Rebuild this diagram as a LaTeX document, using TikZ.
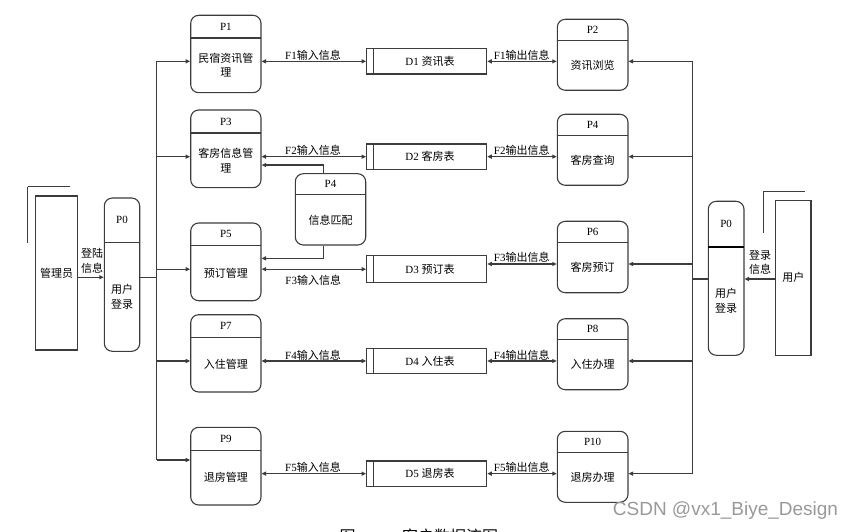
\documentclass[tikz,border=0pt]{standalone}
\usepackage{fontspec}
\setmainfont{Liberation Serif}
\newfontfamily\cjk{Noto Sans CJK SC}
\newfontfamily\wmfont{Liberation Sans}
\usetikzlibrary{arrows.meta}
\definecolor{ln}{HTML}{3C3C3C}
\tikzset{
  procbox/.style={draw=ln, line width=1.1pt, rounded corners=8pt, inner sep=0pt},
  store/.style={draw=ln, line width=1.1pt, inner sep=0pt},
  ent/.style={draw=ln, line width=1.1pt, inner sep=0pt},
  txt/.style={inner sep=0pt, font=\fontsize{11}{14.5}\selectfont, align=center},
  zh/.style={inner sep=0pt, font=\fontsize{11}{14.5}\selectfont\cjk, align=center},
  wire/.style={draw=ln, line width=1.1pt},
  arr/.style={wire, -{Triangle[length=4.5pt,width=4pt]}},
  dbl/.style={wire, {Triangle[length=4.5pt,width=4pt]}-{Triangle[length=4.5pt,width=4pt]}},
}
% name, x1, y1, x2, y2, header line y, header, body
\newcommand\procnode[8]{%
  \node[procbox, minimum width={#4-#2}, minimum height={#5-#3}] (#1) at ({(#2+#4)/2},{(#3+#5)/2}) {};
  \draw[wire] (#2,#6) -- (#4,#6);
  \node[txt] (#1h) at ({(#2+#4)/2},{(#3+#6)/2}) {#7};
  \node[zh] (#1b) at ({(#2+#4)/2},{(#6+#5)/2}) {#8};
}
% name, y1, y2, label
\newcommand\storenode[4]{%
  \node[store, minimum width=120pt, minimum height={#3-#2}] (#1) at (426.7,{(#2+#3)/2}) {};
  \draw[wire] (373.3,#2) -- (373.3,#3);
  \node[txt] (#1t) at (430,{(#2+#3)/2}) {#4};
}
\begin{document}
\begin{tikzpicture}[x=1pt,y=-1pt]
\useasboundingbox (0,0) rectangle (844,532);
\clip (0,0) rectangle (844,532);

% processes
\procnode{p1}{190.7}{15.3}{261}{92.7}{38}{P1}{民宿资讯管\\理}
\procnode{p3}{190.7}{110}{261}{187.7}{133}{P3}{客房信息管\\理}
\procnode{p5}{190.7}{223}{261}{300.7}{245.7}{P5}{预订管理}
\procnode{p7}{190.7}{314.7}{261}{392}{337.3}{P7}{入住管理}
\procnode{p9}{190.7}{427.3}{261}{505}{450.3}{P9}{退房管理}
\procnode{p2}{557.3}{19.3}{628}{90.3}{40.3}{P2}{资讯浏览}
\procnode{p4}{557.3}{114.3}{628}{185.3}{135.3}{P4}{客房查询}
\procnode{p6}{557.3}{221.3}{628}{292.7}{242.7}{P6}{客房预订}
\procnode{p8}{557.3}{318.7}{628}{389.7}{339.7}{P8}{入住办理}
\procnode{p10}{557.3}{431.3}{628}{502.3}{452.3}{P10}{退房办理}
\procnode{pm}{295.3}{173.7}{365.7}{245}{194.7}{P4}{信息匹配}
\procnode{pl}{104.3}{198}{139.7}{351.3}{242.7}{P0}{用户\\登录}
\procnode{pr}{708.3}{201.3}{744}{355.3}{246.7}{P0}{用户\\登录}
\draw[wire, line width=1.8pt, draw=black] (708.3,246.7) -- (744,246.7);

% data stores
\storenode{d1}{48.7}{74}{D1 {\cjk 资讯表}}
\storenode{d2}{144}{169.3}{D2 {\cjk 客房表}}
\storenode{d3}{255.7}{282.7}{D3 {\cjk 预订表}}
\storenode{d4}{348.3}{373.7}{D4 {\cjk 入住表}}
\storenode{d5}{461}{486.3}{D5 {\cjk 退房表}}

% external entities
\node[ent, minimum width=42.4pt, minimum height=154pt] (admin) at (56.5,273) {};
\node[zh] (admint) at (admin.center) {管理员};
\draw[wire] ([shift={(-7,-8.7)}]admin.north west) coordinate (a1) -- ++(0,56) (a1) -- ++(42.4,0);
\node[ent, minimum width=35.3pt, minimum height=155pt] (user) at (793.35,277.8) {};
\node[zh] (usertxt) at (793.35,277) {用户};
\draw[wire] ([shift={(-11.7,-8.3)}]user.north west) coordinate (u1) -- ++(0,42) (u1) -- ++(41.7,0);

% login flows
\coordinate (lbus) at (156.7,277.3);
\coordinate (rbus) at (692.7,279);
\draw[arr] (admin.east |- lbus) -- (pl.west |- lbus);
\node[zh] (lgl) at (92,260.7) {登陆\\信息};
\draw[wire] (pl.east |- lbus) -- (lbus);
\draw[arr] (user.west |- rbus) -- (pr.east |- rbus);
\node[zh] (lgr) at (760,262.5) {登录\\信息};
\draw[wire] (pr.west |- rbus) -- (rbus);

% left bus
\coordinate (lb9) at (156.7,460);
\draw[wire] (lbus |- d1) -- (lb9);
\draw[arr] (lbus |- d1) -- (p1.west |- d1);
\draw[arr] (lbus |- d2) -- (p3.west |- d2);
\draw[arr] (lbus |- d3) -- (p5.west |- d3);
\draw[arr] (lbus |- d4) -- (p7.west |- d4);
\draw[arr] (lb9) -- (p9.west |- lb9);

% right bus
\coordinate (f3o) at ([yshift=5.2pt]d3.east);
\draw[wire] (rbus |- d1) -- (rbus |- d5);
\draw[arr] (rbus |- d1) -- (p2.east |- d1);
\draw[arr] (rbus |- d2) -- (p4.east |- d2);
\draw[arr] (rbus |- f3o) -- (p6.east |- f3o);
\draw[arr] (rbus |- d4) -- (p8.east |- d4);
\draw[arr] (rbus |- d5) -- (p10.east |- d5);

% input flows
\draw[dbl] (p1.east |- d1) -- (d1.west);
\draw[dbl] (p3.east |- d2) -- (d2.west);
\draw[dbl] (p5.east |- d3) -- (d3.west);
\draw[dbl] (p7.east |- d4) -- (d4.west);
\draw[dbl] (p9.east |- d5) -- (d5.west);
\node[txt] (fi1) at (313,55.5) {F1\cjk 输入信息};
\node[txt] (fi2) at (313,150.5) {F2\cjk 输入信息};
\node[txt] (fi3) at (313.3,280.7) {F3\cjk 输入信息};
\node[txt] (fi4) at (313,355) {F4\cjk 输入信息};
\node[txt] (fi5) at (313,467.5) {F5\cjk 输入信息};

% output flows
\draw[dbl] (d1.east) -- (p2.west |- d1);
\draw[dbl] (d2.east) -- (p4.west |- d2);
\draw[dbl] (f3o) -- (p6.west |- f3o);
\draw[dbl] (d4.east) -- (p8.west |- d4);
\draw[dbl] (d5.east) -- (p10.west |- d5);
\node[txt] (fo1) at (521.7,55) {F1\cjk 输出信息};
\node[txt] (fo2) at (521.7,150) {F2\cjk 输出信息};
\node[txt] (fo3) at (521.7,257.5) {F3\cjk 输出信息};
\node[txt] (fo4) at (521.7,355) {F4\cjk 输出信息};
\node[txt] (fo5) at (521.7,467.5) {F5\cjk 输出信息};

% info match connections
\draw[arr] ([xshift=-7.2pt]pm.north) |- ([yshift=-16.2pt]p3.east);
\draw[arr] ([xshift=-7.2pt]pm.south) |- ([yshift=3.5pt]p5.east);

% caption (cut off in the reference) and watermark
\node[inner sep=0pt, font=\fontsize{16}{18}\selectfont\cjk] (cap1) at (347.5,536.5) {图};
\node[inner sep=0pt, font=\fontsize{16}{18}\selectfont\cjk] (cap2) at (450,536.5) {客户数据流图};
\node[inner sep=0pt, text=black!40, font=\fontsize{19}{20}\selectfont\wmfont] (wm) at (725.5,511) {CSDN @vx1\_Biye\_Design};
\end{tikzpicture}
\end{document}
